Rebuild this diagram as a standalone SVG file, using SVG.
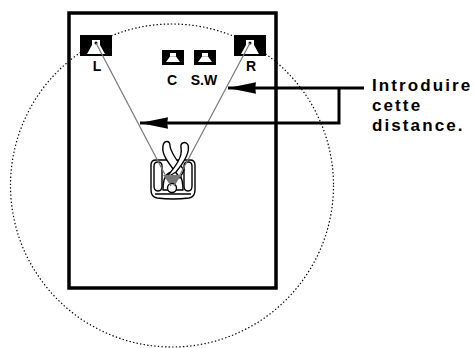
<svg xmlns="http://www.w3.org/2000/svg" width="475" height="348" viewBox="0 0 475 348">
  <style>
    .room { fill: none; stroke: #000; stroke-width: 3.5; }
    .range { fill: none; stroke: #000; stroke-width: 1.2; stroke-dasharray: 1.4 2.2; }
    .spk { fill: #000; }
    .cone { fill: #fff; }
    .lbl { font-family: "Liberation Sans", Arial, sans-serif; font-weight: bold; font-size: 14px; fill: #000; text-anchor: middle; }
    .note { font-family: "Liberation Sans", Arial, sans-serif; font-weight: bold; font-size: 17px; letter-spacing: 2.1px; fill: #000; }
    .sight { stroke: #777; stroke-width: 1.2; fill: none; }
    .lead { stroke: #000; stroke-width: 3; fill: none; }
    .fig { fill: #fff; stroke: #000; stroke-width: 1.4; stroke-linejoin: round; }
  </style>
  <defs>
    <marker id="head" viewBox="0 0 28 12" refX="28" refY="6" markerWidth="28" markerHeight="12" markerUnits="userSpaceOnUse" orient="auto">
      <path d="M28,6 L0,0.3 Q1.5,6 0,11.7 Z" fill="#000"/>
    </marker>
  </defs>

  <rect width="475" height="348" fill="#fff"/>

  <!-- listening range -->
  <circle class="range" cx="172" cy="185.5" r="161.5"/>

  <!-- room outline -->
  <rect class="room" x="69" y="13" width="207" height="275"/>

  <!-- speakers -->
  <g id="speaker-L">
    <rect class="spk" x="80" y="35" width="32" height="21"/>
    <rect class="cone" x="92" y="40" width="8" height="5"/>
    <path class="cone" d="M92,45 L100,45 L105,54 L87,54 Z"/>
    <circle cx="96" cy="43" r="1.5" fill="#000"/>
    <text class="lbl" x="97" y="71">L</text>
  </g>
  <g id="speaker-R">
    <rect class="spk" x="234" y="35" width="32" height="21"/>
    <rect class="cone" x="246" y="40" width="8" height="5"/>
    <path class="cone" d="M246,45 L254,45 L259,54 L241,54 Z"/>
    <circle cx="250" cy="43" r="1.5" fill="#000"/>
    <text class="lbl" x="251" y="71">R</text>
  </g>
  <g id="speaker-C">
    <rect class="spk" x="162" y="50" width="22" height="15"/>
    <rect class="cone" x="170" y="53" width="6" height="3.5"/>
    <path class="cone" d="M170,56.5 L176,56.5 L180,62 L166,62 Z"/>
    <text class="lbl" x="172" y="85">C</text>
  </g>
  <g id="speaker-SW">
    <rect class="spk" x="194" y="50" width="22" height="15"/>
    <rect class="cone" x="202" y="53" width="6" height="3.5"/>
    <path class="cone" d="M202,56.5 L208,56.5 L212,62 L198,62 Z"/>
    <text class="lbl" x="204" y="85">S.W</text>
  </g>

  <!-- listener in armchair -->
  <g id="listener">
    <path class="fig" d="M151,165 Q151,160 156,160 L190,160 Q195,160 195,165 L195,190 Q195,197 189,198 Q173,200 157,198 Q151,197 151,190 Z"/>
    <path class="fig" d="M155,194 L191,194"/>
    <path class="fig" d="M154,166 Q154,162 158,162 Q162,162 162,166 L162,186 Q162,191 158,191 Q154,191 154,186 Z"/>
    <path class="fig" d="M184,166 Q184,162 188,162 Q192,162 192,166 L192,186 Q192,191 188,191 Q184,191 184,186 Z"/>
    <path class="fig" d="M163,190 Q163,172 173,172 Q183,172 183,190 Z"/>
    <path class="fig" d="M180,178 C172,167 161,156 163,146 C164,140 170,140 170,146 C171,153 177,161 184,170 Z"/>
    <path class="fig" d="M166,178 C175,167 183,157 181,148 C180,142 186,141 188,145 C190,151 185,161 176,172 Z"/>
    <path d="M163,175 L182,175 L172,187 Z" fill="#777"/>
    <circle class="fig" cx="172" cy="188" r="4.5"/>
  </g>

  <!-- connectors -->
  <g id="connectors">
    <line class="sight" x1="96" y1="43" x2="171" y2="186"/>
    <line class="sight" x1="250" y1="43" x2="174" y2="186"/>
    <path class="lead" d="M364,88 L228,88" marker-end="url(#head)"/>
    <path class="lead" d="M339,88 L339,123 L140,123" marker-end="url(#head)"/>
  </g>

  <g id="note">
    <text class="note" x="372" y="91">Introduire</text>
    <text class="note" x="372" y="111">cette</text>
    <text class="note" x="372" y="131">distance.</text>
  </g>
</svg>
